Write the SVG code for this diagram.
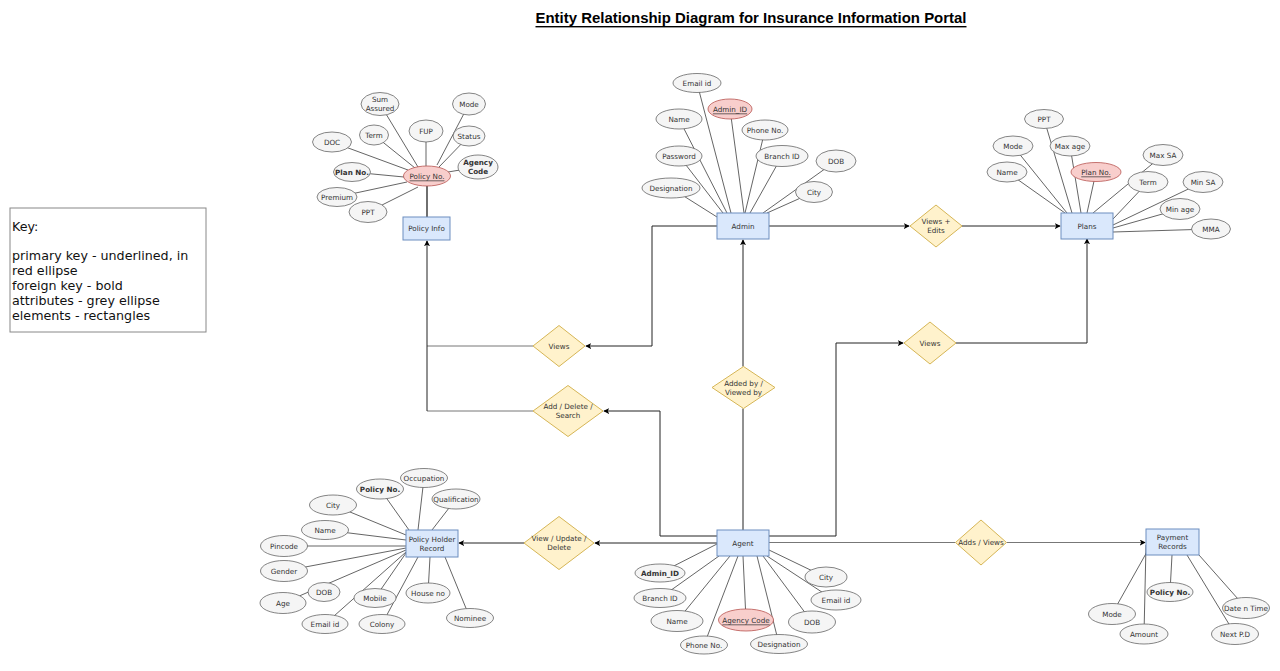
<svg xmlns="http://www.w3.org/2000/svg" width="1280" height="671" viewBox="0 0 1280 671">
<style>
text{font-family:"DejaVu Sans","Verdana",sans-serif;font-size:7.2px;fill:#333;text-anchor:middle;dominant-baseline:central}
.ent{fill:#dae8fc;stroke:#6c8ebf;stroke-width:1}
.rel{fill:#fff2cc;stroke:#d6b656;stroke-width:1}
.att{fill:#f5f5f5;stroke:#666;stroke-width:0.8}
.pk{fill:#f8cecc;stroke:#b85450;stroke-width:0.8}
.pkt{text-decoration:underline}
.fk{font-weight:bold}
.al{stroke:#222;stroke-width:0.7;fill:none}
.cn{stroke:#222;stroke-width:1;fill:none}
.cg{stroke:#777;stroke-width:1;fill:none}
.key{font-family:"DejaVu Sans","Verdana",sans-serif;font-size:12.7px;fill:#111;text-anchor:start;dominant-baseline:auto}
</style>
<defs>
<marker id="arr" viewBox="0 0 8 8" refX="7" refY="4" markerWidth="6" markerHeight="6" markerUnits="userSpaceOnUse" orient="auto">
<path d="M0,0 L8,4 L0,8 L2,4 z" fill="#000"/>
</marker>
</defs>
<rect width="1280" height="671" fill="#fff"/>
<text x="751" y="18" style="font-family:'Liberation Sans',Arial,sans-serif;font-size:14px;font-weight:bold;fill:#000;text-decoration:underline" textLength="431" lengthAdjust="spacingAndGlyphs">Entity Relationship Diagram for Insurance Information Portal</text>
<g id="key">
<rect x="10" y="208" width="196" height="124" fill="#fff" stroke="#888" stroke-width="1"/>
<text class="key" x="12" y="231">Key:</text>
<text class="key" x="12" y="260">primary key - underlined, in</text>
<text class="key" x="12" y="275">red ellipse</text>
<text class="key" x="12" y="290">foreign key - bold</text>
<text class="key" x="12" y="305">attributes - grey ellipse</text>
<text class="key" x="12" y="320">elements - rectangles</text>
</g>
<g id="connectors">
<path class="cn" d="M717,226 H652 V346 H586" marker-end="url(#arr)"/>
<path class="cg" d="M533,346 H427"/>
<path class="cn" d="M427,346 V241" marker-end="url(#arr)"/>
<path class="cg" d="M533,411 H427"/>
<path class="cn" d="M427,411 V346"/>
<path class="cn" d="M717,536 H660 V411 H604" marker-end="url(#arr)"/>
<path class="cn" d="M743,530 V408.5"/>
<path class="cn" d="M743,366.5 V240" marker-end="url(#arr)"/>
<path class="cn" d="M769,536 H836 V343 H903" marker-end="url(#arr)"/>
<path class="cn" d="M956,343 H1087 V239" marker-end="url(#arr)"/>
<path class="cn" d="M769,226 H909" marker-end="url(#arr)"/>
<path class="cn" d="M962,226 H1060" marker-end="url(#arr)"/>
<path class="cn" d="M717,543 H595" marker-end="url(#arr)"/>
<path class="cn" d="M524,543 H459" marker-end="url(#arr)"/>
<path class="cg" d="M769,542.5 H955.5"/>
<path class="cg" d="M1006.5,542.5 H1145" marker-end="url(#arr)"/>
<path class="cn" d="M427,185 V217" style="stroke-width:1.3"/>
<!-- policy info attributes -->
<path class="al" d="M380,104 L418,167 M469,104 L437,165 M374,135 L415,168 M426,131 L426,166 M469,136 L439,167 M332,142 L408,170 M352,172 L404,177 M478,167 L448,172 M337,197 L407,182 M368,212 L418,187"/>
<!-- admin attributes -->
<path class="al" d="M697,83 L731,213 M730,109 L744,213 M679,119 L727,213 M765,130 L745,213 M679,156 L723,213 M782,156 L750,213 M836,161 L763,213 M671,188 L717,217 M814,192 L767,213"/>
<!-- plans attributes -->
<path class="al" d="M1044,119 L1072,213 M1013,146 L1067,213 M1070,146 L1081,213 M1163,155 L1093,213 M1007,172 L1065,213 M1096,172 L1087,213 M1148,182 L1113,219 M1203,182 L1113,225 M1180,209 L1113,228 M1211,229 L1113,232"/>
<!-- policy holder attributes -->
<path class="al" d="M424,478 L418,530 M380,489 L409,530 M333,505 L406,535 M456,499 L432,530 M325,530 L406,540 M284,546 L406,546 M284,571 L406,548 M283,603 L406,550 M375,598 L406,553 M428,593 L430,557 M325,624 L406,552 M382,624 L418,557 M470,618 L445,557"/>
<!-- agent attributes -->
<path class="al" d="M660,573 L717,544 M660,598 L719,556 M677,621 L730,556 M704,645 L738,556 M746,620 L743,556 M779,644 L757,556 M812,622 L763,556 M834,600 L767,556 M825,577 L769,550"/>
<!-- payment attributes -->
<path class="al" d="M1170,592 L1172,555 M1246,608 L1199,555 M1112,614 L1148,550 M1144,634 L1146,545 M1235,634 L1187,555"/>
</g>
<g id="policy-info"><rect class="ent" x="403" y="217" width="47" height="23"/><text x="426.5" y="228.5">Policy Info</text></g>
<g id="admin"><rect class="ent" x="717" y="213" width="52" height="26"/><text x="743" y="226">Admin</text></g>
<g id="plans"><rect class="ent" x="1061" y="213" width="52" height="26"/><text x="1087" y="226">Plans</text></g>
<g id="policy-holder-record"><rect class="ent" x="406" y="530" width="52" height="27"/><text x="432" y="539">Policy Holder</text><text x="432" y="548">Record</text></g>
<g id="agent"><rect class="ent" x="717" y="530" width="52" height="26"/><text x="743" y="543">Agent</text></g>
<g id="payment-records"><rect class="ent" x="1146" y="529" width="53" height="26"/><text x="1172.5" y="537.5">Payment</text><text x="1172.5" y="546.5">Records</text></g>
<g id="rel-views-policy"><polygon class="rel" points="533,346 559,325.5 585,346 559,366.5"/><text x="559" y="346">Views</text></g>
<g id="rel-add-delete-search"><polygon class="rel" points="533,411 568,385.5 603,411 568,436.5"/><text x="568" y="406.5">Add / Delete /</text><text x="568" y="415.5">Search</text></g>
<g id="rel-added-viewed"><polygon class="rel" points="712,387.5 743.5,366.5 775,387.5 743.5,408.5"/><text x="743.5" y="383">Added by /</text><text x="743.5" y="392">Viewed by</text></g>
<g id="rel-views-edits"><polygon class="rel" points="910,226 936,205 962,226 936,247"/><text x="936" y="221.5">Views +</text><text x="936" y="230.5">Edits</text></g>
<g id="rel-views-plans"><polygon class="rel" points="904,343 930,322 956,343 930,364"/><text x="930" y="343">Views</text></g>
<g id="rel-view-update-delete"><polygon class="rel" points="524,543 559,516.5 594,543 559,569.5"/><text x="559" y="538.5">View / Update /</text><text x="559" y="547.5">Delete</text></g>
<g id="rel-adds-views"><polygon class="rel" points="955.5,542.5 981,520 1006.5,542.5 981,565"/><text x="981" y="542.5">Adds / Views</text></g>
<!-- Policy Info attributes -->
<g id="pi-sum-assured"><ellipse class="att" cx="380" cy="104" rx="19" ry="11.5"/><text x="380" y="99.5">Sum</text><text x="380" y="108.5">Assured</text></g>
<g id="pi-mode"><ellipse class="att" cx="469" cy="104" rx="16.5" ry="11"/><text x="469" y="104">Mode</text></g>
<g id="pi-term"><ellipse class="att" cx="374" cy="135" rx="14.5" ry="10"/><text x="374" y="135">Term</text></g>
<g id="pi-fup"><ellipse class="att" cx="426" cy="131" rx="17" ry="11"/><text x="426" y="131">FUP</text></g>
<g id="pi-status"><ellipse class="att" cx="469" cy="136" rx="16" ry="10"/><text x="469" y="136">Status</text></g>
<g id="pi-doc"><ellipse class="att" cx="332" cy="142" rx="19.5" ry="10"/><text x="332" y="142">DOC</text></g>
<g id="pi-plan-no"><ellipse class="att" cx="352" cy="172" rx="18.5" ry="9.5"/><text class="fk" x="352" y="172">Plan No.</text></g>
<g id="pi-policy-no"><ellipse class="pk" cx="427" cy="176" rx="23.5" ry="10"/><text class="pkt" x="427" y="176">Policy No.</text></g>
<g id="pi-agency-code"><ellipse class="att" cx="478" cy="167" rx="20" ry="12"/><text class="fk" x="478" y="162.5">Agency</text><text class="fk" x="478" y="171.5">Code</text></g>
<g id="pi-premium"><ellipse class="att" cx="337" cy="197" rx="20" ry="9.5"/><text x="337" y="197">Premium</text></g>
<g id="pi-ppt"><ellipse class="att" cx="368" cy="212" rx="19" ry="10.5"/><text x="368" y="212">PPT</text></g>
<!-- Admin attributes -->
<g id="ad-email"><ellipse class="att" cx="697" cy="83" rx="24" ry="9.5"/><text x="697" y="83">Email id</text></g>
<g id="ad-admin-id"><ellipse class="pk" cx="730" cy="109" rx="22" ry="10"/><text class="pkt" x="730" y="109">Admin_ID</text></g>
<g id="ad-name"><ellipse class="att" cx="679" cy="119" rx="23" ry="10"/><text x="679" y="119">Name</text></g>
<g id="ad-phone"><ellipse class="att" cx="765" cy="130" rx="23" ry="10"/><text x="765" y="130">Phone No.</text></g>
<g id="ad-password"><ellipse class="att" cx="679" cy="156" rx="23" ry="10"/><text x="679" y="156">Password</text></g>
<g id="ad-branch"><ellipse class="att" cx="782" cy="156" rx="26" ry="10.5"/><text x="782" y="156">Branch ID</text></g>
<g id="ad-dob"><ellipse class="att" cx="836" cy="161" rx="20" ry="11"/><text x="836" y="161">DOB</text></g>
<g id="ad-designation"><ellipse class="att" cx="671" cy="188" rx="29" ry="10"/><text x="671" y="188">Designation</text></g>
<g id="ad-city"><ellipse class="att" cx="814" cy="192" rx="18.5" ry="10.5"/><text x="814" y="192">City</text></g>
<!-- Plans attributes -->
<g id="pl-ppt"><ellipse class="att" cx="1044" cy="119" rx="19.5" ry="9.5"/><text x="1044" y="119">PPT</text></g>
<g id="pl-mode"><ellipse class="att" cx="1013" cy="146" rx="20" ry="10"/><text x="1013" y="146">Mode</text></g>
<g id="pl-max-age"><ellipse class="att" cx="1070" cy="146" rx="20" ry="10"/><text x="1070" y="146">Max age</text></g>
<g id="pl-max-sa"><ellipse class="att" cx="1163" cy="155" rx="20" ry="10.5"/><text x="1163" y="155">Max SA</text></g>
<g id="pl-name"><ellipse class="att" cx="1007" cy="172" rx="20" ry="10"/><text x="1007" y="172">Name</text></g>
<g id="pl-plan-no"><ellipse class="pk" cx="1096" cy="172" rx="25" ry="9.5"/><text class="pkt" x="1096" y="172">Plan No.</text></g>
<g id="pl-term"><ellipse class="att" cx="1148" cy="182" rx="20" ry="10.5"/><text x="1148" y="182">Term</text></g>
<g id="pl-min-sa"><ellipse class="att" cx="1203" cy="182" rx="20" ry="10.5"/><text x="1203" y="182">Min SA</text></g>
<g id="pl-min-age"><ellipse class="att" cx="1180" cy="209" rx="20" ry="10.5"/><text x="1180" y="209">Min age</text></g>
<g id="pl-mma"><ellipse class="att" cx="1211" cy="229" rx="19.5" ry="10"/><text x="1211" y="229">MMA</text></g>
<!-- Policy Holder attributes -->
<g id="ph-occupation"><ellipse class="att" cx="424" cy="478" rx="23.5" ry="9.5"/><text x="424" y="478">Occupation</text></g>
<g id="ph-policy-no"><ellipse class="att" cx="380" cy="489" rx="23.5" ry="10"/><text class="fk" x="380" y="489">Policy No.</text></g>
<g id="ph-city"><ellipse class="att" cx="333" cy="505" rx="23.5" ry="10"/><text x="333" y="505">City</text></g>
<g id="ph-qualification"><ellipse class="att" cx="456" cy="499" rx="24" ry="10"/><text x="456" y="499">Qualification</text></g>
<g id="ph-name"><ellipse class="att" cx="325" cy="530" rx="23.5" ry="9.5"/><text x="325" y="530">Name</text></g>
<g id="ph-pincode"><ellipse class="att" cx="284" cy="546" rx="23.5" ry="10.5"/><text x="284" y="546">Pincode</text></g>
<g id="ph-gender"><ellipse class="att" cx="284" cy="571" rx="23.5" ry="10.5"/><text x="284" y="571">Gender</text></g>
<g id="ph-age"><ellipse class="att" cx="283" cy="603" rx="23" ry="10.5"/><text x="283" y="603">Age</text></g>
<g id="ph-dob"><ellipse class="att" cx="324" cy="592" rx="16" ry="9.5"/><text x="324" y="592">DOB</text></g>
<g id="ph-mobile"><ellipse class="att" cx="375" cy="598" rx="21" ry="9.5"/><text x="375" y="598">Mobile</text></g>
<g id="ph-house"><ellipse class="att" cx="428" cy="593" rx="22" ry="10"/><text x="428" y="593">House no</text></g>
<g id="ph-email"><ellipse class="att" cx="325" cy="624" rx="23" ry="9.5"/><text x="325" y="624">Email id</text></g>
<g id="ph-colony"><ellipse class="att" cx="382" cy="624" rx="23" ry="9.5"/><text x="382" y="624">Colony</text></g>
<g id="ph-nominee"><ellipse class="att" cx="470" cy="618" rx="23.5" ry="9.5"/><text x="470" y="618">Nominee</text></g>
<!-- Agent attributes -->
<g id="ag-admin-id"><ellipse class="att" cx="660" cy="573" rx="25" ry="9"/><text class="fk" x="660" y="573">Admin_ID</text></g>
<g id="ag-branch"><ellipse class="att" cx="660" cy="598" rx="26" ry="9.5"/><text x="660" y="598">Branch ID</text></g>
<g id="ag-name"><ellipse class="att" cx="677" cy="621" rx="26" ry="10.5"/><text x="677" y="621">Name</text></g>
<g id="ag-phone"><ellipse class="att" cx="704" cy="645" rx="23.5" ry="9"/><text x="704" y="645">Phone No.</text></g>
<g id="ag-agency-code"><ellipse class="pk" cx="746" cy="620" rx="27.5" ry="11"/><text class="pkt" x="746" y="620">Agency Code</text></g>
<g id="ag-designation"><ellipse class="att" cx="779" cy="644" rx="28.5" ry="9.5"/><text x="779" y="644">Designation</text></g>
<g id="ag-dob"><ellipse class="att" cx="812" cy="622" rx="23.5" ry="11"/><text x="812" y="622">DOB</text></g>
<g id="ag-email"><ellipse class="att" cx="836" cy="600" rx="25" ry="10"/><text x="836" y="600">Email id</text></g>
<g id="ag-city"><ellipse class="att" cx="826" cy="577" rx="21" ry="10"/><text x="826" y="577">City</text></g>
<!-- Payment attributes -->
<g id="pr-policy-no"><ellipse class="att" cx="1170" cy="592" rx="23" ry="9.5"/><text class="fk" x="1170" y="592">Policy No.</text></g>
<g id="pr-date-time"><ellipse class="att" cx="1246" cy="608" rx="23.5" ry="10.5"/><text x="1246" y="608">Date n Time</text></g>
<g id="pr-mode"><ellipse class="att" cx="1112" cy="614" rx="23.5" ry="10.5"/><text x="1112" y="614">Mode</text></g>
<g id="pr-amount"><ellipse class="att" cx="1144" cy="634" rx="24" ry="10"/><text x="1144" y="634">Amount</text></g>
<g id="pr-next-pd"><ellipse class="att" cx="1235" cy="634" rx="23.5" ry="10.5"/><text x="1235" y="634">Next P.D</text></g>
</svg>
